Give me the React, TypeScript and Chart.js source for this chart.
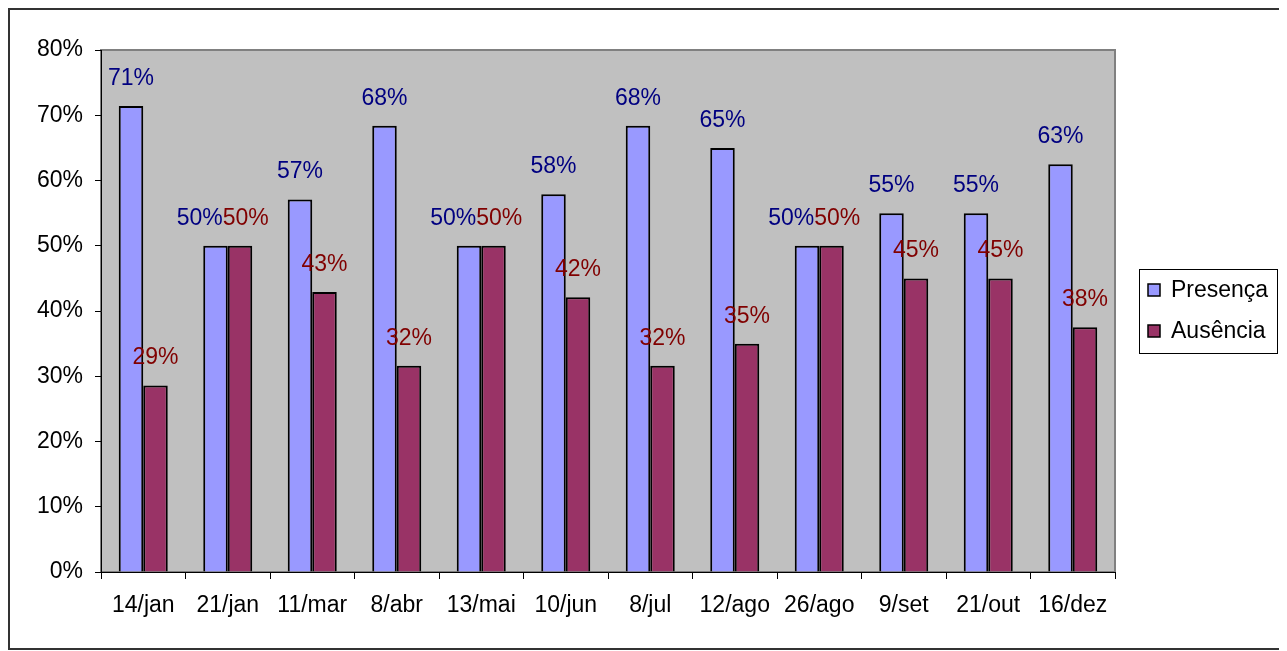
import React, { useEffect, useRef } from "react";
import { Chart, registerables } from "chart.js";

Chart.register(...registerables);

// Attendance per meeting date (percent of members)
const categories = ["14/jan", "21/jan", "11/mar", "8/abr", "13/mai", "10/jun", "8/jul", "12/ago", "26/ago", "9/set", "21/out", "16/dez"];
const presenca = [71.4, 50, 57.1, 68.4, 50, 57.9, 68.4, 65, 50, 55, 55, 62.5];
const ausencia = [28.6, 50, 42.9, 31.6, 50, 42.1, 31.6, 35, 50, 45, 45, 37.5];
const seriesNames = ["Presença", "Ausência"];
const yTicks = [0, 10, 20, 30, 40, 50, 60, 70, 80];

const FONT = "Liberation Sans, Arial, sans-serif";
const FONT_SIZE = 23;
const BAR_COLORS = ["#9999FF", "#993366"];
const LABEL_COLORS = ["#000080", "#800000"];

// Grey plot area behind the bars
const plotBackground = {
  id: "plotBackground",
  beforeDraw(chart: any) {
    const { ctx, chartArea: a } = chart;
    ctx.save();
    ctx.fillStyle = "#C0C0C0";
    ctx.fillRect(a.left, a.top, a.right - a.left, a.bottom - a.top);
    ctx.strokeStyle = "#808080";
    ctx.lineWidth = 2;
    ctx.strokeRect(a.left, a.top, a.right - a.left, a.bottom - a.top);
    ctx.restore();
  },
};

// Value labels above each bar; paired labels that collide are pushed apart
const valueLabels = {
  id: "valueLabels",
  afterDatasetsDraw(chart: any) {
    const { ctx } = chart;
    const m0 = chart.getDatasetMeta(0);
    const m1 = chart.getDatasetMeta(1);
    ctx.save();
    ctx.font = `${FONT_SIZE}px ${FONT}`;
    ctx.textBaseline = "alphabetic";
    for (let i = 0; i < categories.length; i++) {
      const b0 = m0.data[i];
      const b1 = m1.data[i];
      const t0 = `${Math.round(presenca[i])}%`;
      const t1 = `${Math.round(ausencia[i])}%`;
      const w0 = ctx.measureText(t0).width;
      const w1 = ctx.measureText(t1).width;
      let x0 = b0.x;
      let x1 = b1.x;
      const y0 = b0.y - 21;
      const y1 = b1.y - 21;
      if (Math.abs(y0 - y1) < FONT_SIZE && x0 + w0 / 2 > x1 - w1 / 2) {
        const meet = (b0.x + b1.x) / 2 - 5;
        x0 = meet - w0 / 2;
        x1 = meet + w1 / 2;
      }
      ctx.textAlign = "center";
      ctx.fillStyle = LABEL_COLORS[0];
      ctx.fillText(t0, x0, y0);
      ctx.fillStyle = LABEL_COLORS[1];
      ctx.fillText(t1, x1, y1);
    }
    ctx.restore();
  },
};

// Boxed legend at the right of the plot
const boxLegend = {
  id: "boxLegend",
  afterDraw(chart: any) {
    const { ctx } = chart;
    const left = 1129;
    const top = 259;
    const w = 138;
    const h = 84;
    ctx.save();
    ctx.fillStyle = "#FFFFFF";
    ctx.fillRect(left, top, w, h);
    ctx.strokeStyle = "#000000";
    ctx.lineWidth = 1;
    ctx.strokeRect(left + 0.5, top + 0.5, w, h);
    ctx.font = `${FONT_SIZE}px ${FONT}`;
    ctx.textBaseline = "middle";
    ctx.textAlign = "left";
    chart.data.datasets.forEach((ds: any, i: number) => {
      const cy = top + 21 + i * 41;
      ctx.fillStyle = ds.backgroundColor;
      ctx.fillRect(left + 9, cy - 6, 12, 12);
      ctx.lineWidth = 1.5;
      ctx.strokeStyle = "#000000";
      ctx.strokeRect(left + 9, cy - 6, 12, 12);
      ctx.fillStyle = "#000000";
      ctx.fillText(ds.label, left + 32, cy + 1);
    });
    ctx.restore();
  },
};

export default function App() {
  const canvasRef = useRef<HTMLCanvasElement | null>(null);

  useEffect(() => {
    if (!canvasRef.current) return;
    const chart = new Chart(canvasRef.current, {
      type: "bar",
      data: {
        labels: categories,
        datasets: [
          {
            label: seriesNames[0],
            data: presenca,
            backgroundColor: BAR_COLORS[0],
            borderColor: "#000000",
            borderWidth: 2,
          },
          {
            label: seriesNames[1],
            data: ausencia,
            backgroundColor: BAR_COLORS[1],
            borderColor: "#000000",
            borderWidth: 2,
          },
        ],
      },
      options: {
        animation: false,
        responsive: false,
        maintainAspectRatio: false,
        layout: { padding: { left: 0, top: 40, right: 170, bottom: 0 } },
        datasets: { bar: { categoryPercentage: 0.58, barPercentage: 1 } },
        plugins: {
          legend: { display: false },
          tooltip: { enabled: false },
        },
        scales: {
          x: {
            grid: {
              offset: true,
              drawOnChartArea: false,
              drawTicks: true,
              tickLength: 7,
              color: "#000000",
            },
            border: { color: "#000000", width: 1 },
            ticks: {
              color: "#000000",
              font: { family: FONT, size: FONT_SIZE },
              padding: 13,
              maxRotation: 0,
              autoSkip: false,
            },
            afterFit(scale: any) {
              scale.height = 76;
            },
          },
          y: {
            min: 0,
            max: 80,
            afterBuildTicks(scale: any) {
              scale.ticks = yTicks.map((v) => ({ value: v }));
            },
            grid: {
              drawOnChartArea: false,
              drawTicks: true,
              tickLength: 6,
              color: "#000000",
            },
            border: { color: "#000000", width: 1 },
            ticks: {
              color: "#000000",
              font: { family: FONT, size: FONT_SIZE },
              padding: 12,
              callback: (v: any) => `${v}%`,
            },
            afterFit(scale: any) {
              scale.width = 91;
            },
          },
        },
      },
      plugins: [plotBackground, valueLabels, boxLegend],
    });
    return () => chart.destroy();
  }, []);

  return (
    <div
      style={{
        boxSizing: "border-box",
        width: 1279,
        height: 642,
        border: "2px solid #333333",
        background: "#FFFFFF",
      }}
    >
      <canvas ref={canvasRef} width={1275} height={638} style={{ display: "block" }} />
    </div>
  );
}
